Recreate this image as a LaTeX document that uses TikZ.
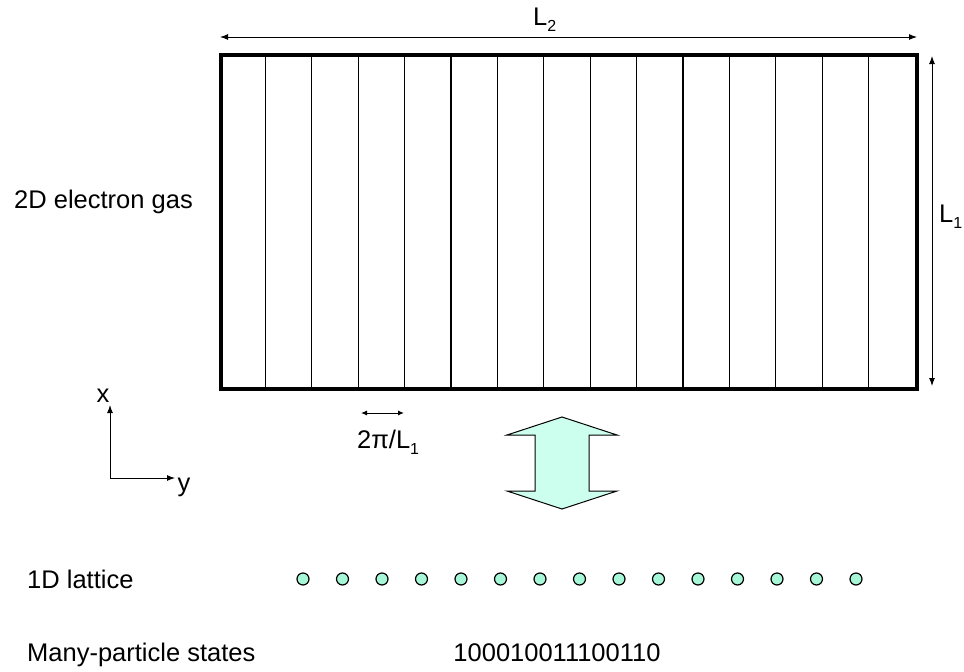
\documentclass[tikz,border=0pt]{standalone}
\usepackage{fontspec}
\setmainfont{Liberation Sans}
\usetikzlibrary{arrows.meta}
\definecolor{arrowfill}{RGB}{204,255,238}
\definecolor{dotfill}{RGB}{166,247,216}
\newcommand{\subidx}[1]{\raisebox{-6pt}{\fontsize{16}{18}\selectfont #1}}
\begin{document}
\begin{tikzpicture}[x=1pt,y=-1pt,
  lbl/.style={font=\fontsize{25.5}{28}\selectfont, inner sep=0pt},
  dim/.style={line width=1pt, {Latex[length=8pt,width=6pt]}-{Latex[length=8pt,width=6pt]}},
  ax/.style={line width=1pt, -{Latex[length=8pt,width=6pt]}},
  strip/.style={line width=1.3pt},
  site/.style={circle, draw, line width=1.2pt, fill=dotfill, minimum size=12pt, inner sep=0pt}]
\useasboundingbox (0,0) rectangle (964,672);
% rectangle
\node[draw, line width=4pt, minimum width=696pt, minimum height=334pt, inner sep=0pt, anchor=north west] (box) at (219,53) {};
\foreach \i in {1,...,14} {
  \draw[strip] (219+46.4*\i,53) -- (219+46.4*\i,387);
}
% dimension arrows
\coordinate (l2a) at (220,37);
\coordinate (l2b) at (917,37);
\draw[dim] (l2a) -- (l2b);
\node[lbl, anchor=base west] (L2) at (533,25) {L\subidx{2}};
\coordinate (l1a) at (932,56);
\coordinate (l1b) at (932,386);
\draw[dim] (l1a) -- (l1b);
\node[lbl, anchor=base west] (L1) at (939,222) {L\subidx{1}};
\node[lbl, anchor=west] (gas) at (14,202) {2D electron gas};
% axes
\coordinate (o) at (110,478);
\coordinate (xt) at (110,405);
\coordinate (yt) at (175,478);
\draw[ax] (o) -- (xt);
\draw[ax] (o) -- (yt);
\node[lbl, anchor=base] (xl) at (103,402) {x};
\node[lbl, anchor=base] (yl) at (184,491) {y};
% small spacing arrow
\coordinate (sa) at (361,413);
\coordinate (sb) at (404,413);
\draw[line width=1pt, {Latex[length=6pt,width=5pt]}-{Latex[length=6pt,width=5pt]}] (sa) -- (sb);
\node[lbl, anchor=base west] (sp) at (357,448) {2π/L\subidx{1}};
% big double arrow
\draw[line width=1pt, fill=arrowfill, line join=miter] (562,417) -- (617,435) -- (589,435) -- (589,491) -- (617,491) -- (562,509) -- (507,491) -- (535,491) -- (535,435) -- (507,435) -- cycle;
% lattice
\node[lbl, anchor=base west] (lat) at (27,588) {1D lattice};
\foreach \i in {0,...,14} {
  \node[site] (s\i) at (303+39.5*\i,579) {};
}
\node[lbl, anchor=base west] (mps) at (27,661) {Many-particle states};
\node[lbl, anchor=base] (bits) at (557,661) {100010011100110};
\end{tikzpicture}
\end{document}
